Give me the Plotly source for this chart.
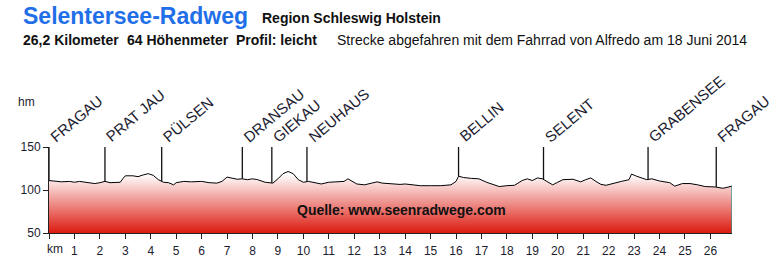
import numpy as np
import plotly.graph_objects as go

# ---- data ----
km = [0.0, 0.3, 0.5, 0.8, 1.0, 1.2, 1.5, 1.8, 2.0, 2.2, 2.4, 2.6, 2.8, 2.9, 3.0, 3.3, 3.5, 3.7, 3.9,
      4.1, 4.3, 4.5, 4.7, 4.9, 5.0, 5.3, 5.6, 6.0, 6.3, 6.6, 6.8, 7.0, 7.2, 7.4, 7.6, 7.8, 8.0, 8.2,
      8.5, 8.8, 9.0, 9.2, 9.4, 9.6, 9.8, 10.0, 10.2, 10.5, 10.7, 11.0, 11.3, 11.6, 11.75, 11.9, 12.1,
      12.4, 12.7, 12.9, 13.1, 13.4, 13.8, 14.0, 14.3, 14.6, 15.0, 15.4, 15.8, 16.0, 16.1, 16.3, 16.6,
      16.9, 17.2, 17.5, 17.7, 18.0, 18.3, 18.6, 18.8, 19.0, 19.2, 19.4, 19.6, 19.8, 20.0, 20.2, 20.6,
      20.9, 21.1, 21.3, 21.5, 21.7, 21.9, 22.2, 22.5, 22.8, 22.9, 23.1, 23.5, 23.7, 24.0, 24.4, 24.6,
      24.9, 25.2, 25.5, 25.8, 26.2, 26.5, 26.85]
elev = [111, 110, 109.5, 110, 109, 110, 109, 107.5, 108.5, 110, 108.5, 108.5, 109, 113, 116.5, 116.5,
        115.5, 117.5, 119, 117, 112, 109, 108.5, 106, 108.5, 110, 109.5, 110, 108.5, 108, 110, 115,
        113.5, 112.5, 113, 112, 113, 112, 109, 108, 113, 119, 121.5, 119, 112, 109, 110, 108.5, 107,
        109, 109.5, 110, 113, 110, 107, 106, 108, 109.5, 108, 107, 106.5, 107, 106, 105, 105, 105, 106,
        110, 116, 114.5, 113.5, 113, 109, 106, 104, 105, 105.5, 111, 113, 111, 114, 113, 109, 106, 109,
        112, 112.5, 109.5, 112, 114, 110, 106.5, 105.5, 108, 110, 112, 118.5, 116, 112, 113, 110.5,
        108.5, 104.5, 107.5, 107.5, 106, 104, 103.5, 102, 104.5]

places = ["FRAGAU", "PRAT JAU", "PÜLSEN", "DRANSAU", "GIEKAU", "NEUHAUS",
          "BELLIN", "SELENT", "GRABENSEE", "FRAGAU"]
place_km = [0.0, 2.2, 4.43, 7.6, 8.76, 10.14, 16.1, 19.44, 23.55, 26.23]

x_ticks = list(range(0, 27))
x_ticktext = [""] + [str(i) for i in range(1, 27)]
y_ticks = [50, 100, 150]

title = "Selentersee-Radweg"
region = "Region Schleswig Holstein"
stats = ["26,2 Kilometer", "64 Höhenmeter", "Profil: leicht"]
note = "Strecke abgefahren mit dem Fahrrad von Alfredo am 18 Juni 2014"
source = "Quelle: www.seenradwege.com"

FONT = "Liberation Sans, Arial, sans-serif"
DARK = "#1c1c30"

fig = go.Figure()

# filled profile
fig.add_trace(go.Scatter(
    x=km, y=elev, mode="lines", line=dict(color="#000000", width=1),
    fill="tozeroy",
    fillgradient=dict(type="vertical", colorscale=[[0, "#dc1a10"], [1, "#ffffff"]],
                      start=50, stop=118),
    hoverinfo="skip", showlegend=False))

# right end edge
fig.add_trace(go.Scatter(x=[km[-1], km[-1]], y=[50, elev[-1]], mode="lines",
                         line=dict(color="#1f9a9a", width=1.2), showlegend=False, hoverinfo="skip"))

# place marker lines
top = 150
for pk in place_km:
    e = float(np.interp(pk, km, elev))
    fig.add_trace(go.Scatter(x=[pk, pk], y=[e, top], mode="lines",
                             line=dict(color="#111111", width=1.3),
                             showlegend=False, hoverinfo="skip", cliponaxis=False))

# place labels
for name, pk in zip(places, place_km):
    fig.add_annotation(x=pk, y=top, xref="x", yref="y", text=name, showarrow=False,
                       textangle=-40, xanchor="left", yanchor="bottom",
                       xshift=-5, yshift=-1,
                       font=dict(family=FONT, size=15, color=DARK))

W, H = 780, 260
L, R, T, B = 49, 48, 147, 27
pw, ph = W - L - R, H - T - B


def px(xp):
    return (xp - L) / pw


def py(yp):
    return (H - B - yp) / ph


def ann(text, x, y, size, color=DARK, bold=False, xanchor="left"):
    t = f"<b>{text}</b>" if bold else text
    fig.add_annotation(x=px(x), y=py(y), xref="paper", yref="paper", text=t,
                       showarrow=False, xanchor=xanchor, yanchor="middle", borderpad=0,
                       font=dict(family=FONT, size=size, color=color))


ann(title, 22, 16, 23, color="#1f6fe8", bold=True)
ann(region, 261, 18, 14, color="#111111", bold=True)
ann(stats[0], 22, 40, 14, color="#111111", bold=True)
ann(stats[1], 126, 40, 14, color="#111111", bold=True)
ann(stats[2], 235, 40, 14, color="#111111", bold=True)
ann(note, 336, 40, 14, color="#111111")
ann(source, 401, 210, 14, color="#111111", bold=True, xanchor="center")
ann("hm", 17, 102, 12)
ann("km", 46, 249, 12)

fig.update_xaxes(range=[0, km[-1]], tickvals=x_ticks, ticktext=x_ticktext,
                 ticks="outside", ticklen=5, tickcolor="#222", showline=True,
                 linecolor="#222", linewidth=1, showgrid=False, zeroline=False,
                 ticklabelstandoff=2, automargin=False,
                 tickfont=dict(family=FONT, size=12, color=DARK))
fig.update_yaxes(range=[50, 150], tickvals=y_ticks, ticks="outside", ticklen=5,
                 tickcolor="#222", showline=True, linecolor="#222", linewidth=1,
                 showgrid=False, zeroline=False, automargin=False,
                 tickfont=dict(family=FONT, size=12, color=DARK))

fig.update_layout(width=W, height=H, margin=dict(l=L, r=R, t=T, b=B),
                  paper_bgcolor="white", plot_bgcolor="white", showlegend=False)

fig.write_html("out.html")
